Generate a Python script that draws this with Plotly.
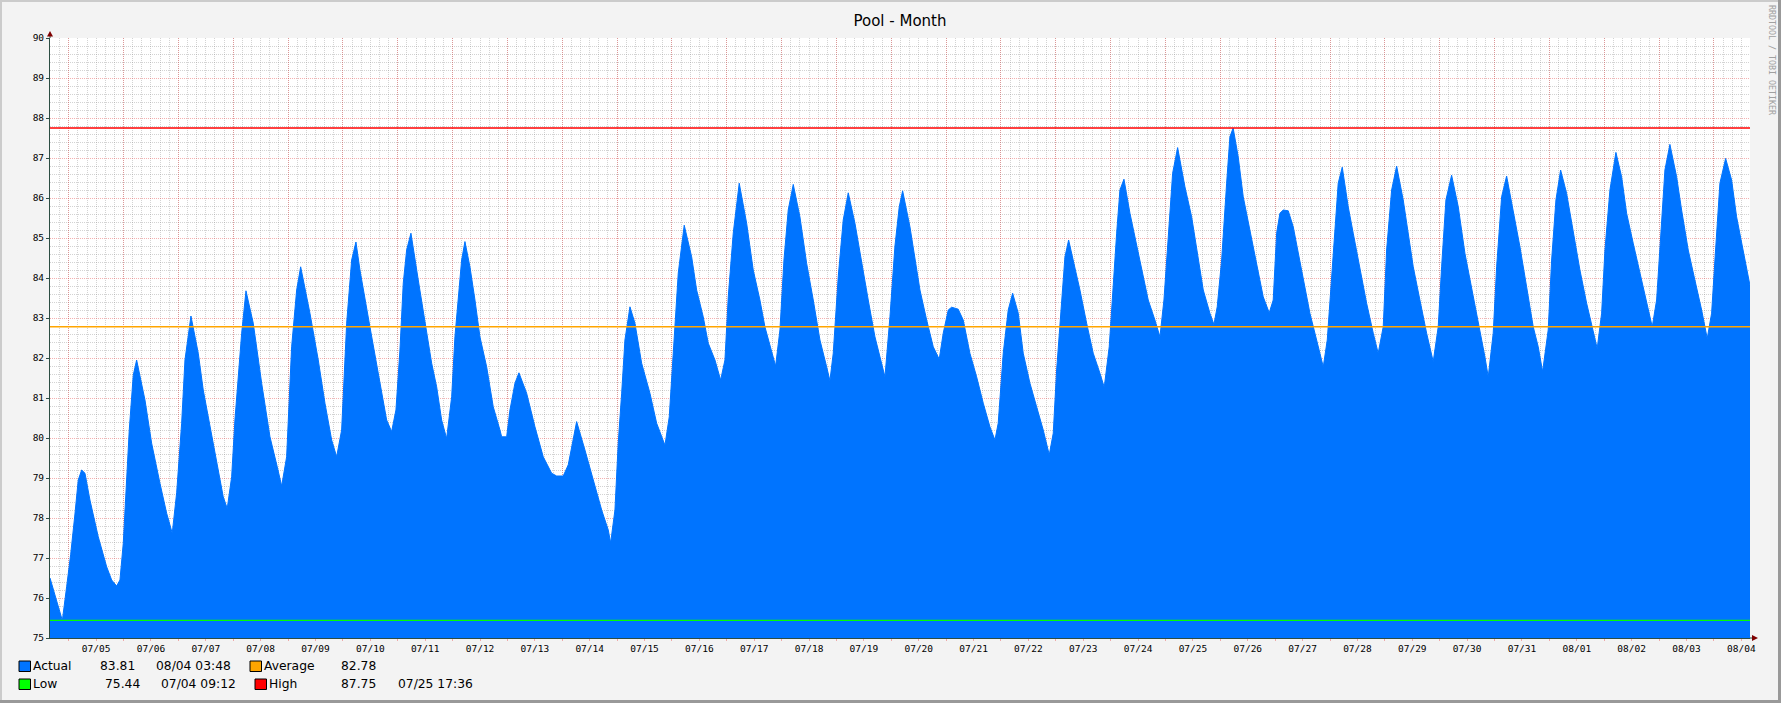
import plotly.graph_objects as go
import pandas as pd

# pool temperature readings (°F)
times = [
    "07-04 03:48", "07-04 06:00", "07-04 09:12", "07-04 11:05", "07-04 12:50", "07-04 14:43", "07-04 16:10", "07-04 17:39", "07-04 19:06", "07-04 21:17",
    "07-05 00:55", "07-05 04:36", "07-05 06:47", "07-05 08:58", "07-05 10:25", "07-05 11:52", "07-05 13:21", "07-05 14:29", "07-05 16:14", "07-05 17:43", "07-05 21:22",
    "07-06 00:17", "07-06 03:55", "07-06 06:51", "07-06 09:18", "07-06 11:14", "07-06 13:25", "07-06 14:52", "07-06 17:29", "07-06 20:41", "07-06 22:52",
    "07-07 01:48", "07-07 05:26", "07-07 07:37", "07-07 09:22", "07-07 11:18", "07-07 12:44", "07-07 14:11", "07-07 15:41", "07-07 17:34", "07-07 20:45",
    "07-08 00:26", "07-08 04:04", "07-08 07:15", "07-08 09:11", "07-08 11:22", "07-08 13:33", "07-08 15:45", "07-08 17:30", "07-08 21:34",
    "07-09 01:12", "07-09 04:08", "07-09 07:04", "07-09 09:15", "07-09 11:26", "07-09 13:38", "07-09 15:49", "07-09 17:42", "07-09 19:27", "07-09 23:49",
    "07-10 04:12", "07-10 07:08", "07-10 09:19", "07-10 11:12", "07-10 12:57", "07-10 14:24", "07-10 15:53", "07-10 17:46", "07-10 20:58", "07-10 23:54",
    "07-11 02:50", "07-11 05:01", "07-11 07:12", "07-11 09:23", "07-11 11:35", "07-11 13:01", "07-11 14:28", "07-11 15:57", "07-11 17:24", "07-11 19:35", "07-11 21:47", "07-11 23:58",
    "07-12 02:54", "07-12 05:47", "07-12 08:43", "07-12 09:28", "07-12 11:39", "07-12 13:06", "07-12 15:17", "07-12 17:02", "07-12 20:24",
    "07-13 00:02", "07-13 03:40", "07-13 07:20", "07-13 09:32", "07-13 12:25", "07-13 14:37", "07-13 18:17", "07-13 21:55",
    "07-14 01:33", "07-14 05:14", "07-14 08:07", "07-14 09:10", "07-14 11:03", "07-14 12:29", "07-14 13:59", "07-14 15:25", "07-14 17:37", "07-14 19:48", "07-14 22:44",
    "07-15 02:22", "07-15 05:18", "07-15 08:56", "07-15 10:49", "07-15 12:34", "07-15 14:45", "07-15 17:22", "07-15 20:37", "07-15 22:48",
    "07-16 01:41", "07-16 03:53", "07-16 06:49", "07-16 09:18", "07-16 11:11", "07-16 12:38", "07-16 14:49", "07-16 17:26", "07-16 20:41", "07-16 23:34",
    "07-17 02:30", "07-17 04:41", "07-17 07:37", "07-17 09:22", "07-17 11:15", "07-17 13:01", "07-17 14:53", "07-17 17:05", "07-17 20:00", "07-17 22:56",
    "07-18 01:50", "07-18 04:46", "07-18 07:42", "07-18 09:08", "07-18 10:35", "07-18 12:46", "07-18 14:57", "07-18 17:09", "07-18 20:05", "07-18 23:01",
    "07-19 01:54", "07-19 04:50", "07-19 07:46", "07-19 09:13", "07-19 11:24", "07-19 13:35", "07-19 15:28", "07-19 16:57", "07-19 20:09", "07-19 22:20",
    "07-20 00:32", "07-20 03:28", "07-20 06:21", "07-20 08:58", "07-20 10:43", "07-20 12:55", "07-20 14:24", "07-20 17:17", "07-20 19:28", "07-20 22:24",
    "07-21 01:20", "07-21 04:14", "07-21 07:10", "07-21 09:21", "07-21 10:47", "07-21 12:59", "07-21 15:10", "07-21 17:06", "07-21 19:33", "07-21 21:44",
    "07-22 00:40", "07-22 03:36", "07-22 06:29", "07-22 09:07", "07-22 10:52", "07-22 12:21", "07-22 14:32", "07-22 15:59", "07-22 17:36", "07-22 20:22", "07-22 22:33",
    "07-23 01:29", "07-23 04:22", "07-23 07:18", "07-23 09:11", "07-23 11:22", "07-23 13:07", "07-23 14:37", "07-23 16:03", "07-23 17:49", "07-23 20:26", "07-23 22:37",
    "07-24 01:33", "07-24 04:26", "07-24 07:22", "07-24 09:34", "07-24 11:19", "07-24 13:11", "07-24 15:07", "07-24 17:18", "07-24 20:30", "07-24 23:26",
    "07-25 01:37", "07-25 04:31", "07-25 07:26", "07-25 09:11", "07-25 10:38", "07-25 12:34", "07-25 14:45", "07-25 16:11", "07-25 17:36", "07-25 19:49", "07-25 22:01",
    "07-26 00:57", "07-26 03:53", "07-26 06:46", "07-26 09:23", "07-26 11:08", "07-26 12:38", "07-26 14:04", "07-26 15:31", "07-26 17:43", "07-26 19:54", "07-26 22:05",
    "07-27 00:16", "07-27 03:12", "07-27 06:08", "07-27 09:02", "07-27 10:47", "07-27 11:58", "07-27 14:09", "07-27 15:35", "07-27 17:21", "07-27 19:58", "07-27 22:09",
    "07-28 01:05", "07-28 04:01", "07-28 06:55", "07-28 09:05", "07-28 11:17", "07-28 12:46", "07-28 14:58", "07-28 17:09", "07-28 20:02", "07-28 22:13",
    "07-29 00:25", "07-29 03:20", "07-29 06:17", "07-29 09:10", "07-29 11:21", "07-29 12:50", "07-29 14:43", "07-29 17:13", "07-29 20:07", "07-29 23:02",
    "07-30 01:58", "07-30 05:36", "07-30 07:47", "07-30 09:14", "07-30 11:25", "07-30 12:55", "07-30 15:06", "07-30 17:17", "07-30 20:11", "07-30 23:07",
    "07-31 02:02", "07-31 04:56", "07-31 07:07", "07-31 09:02", "07-31 11:29", "07-31 12:59", "07-31 14:52", "07-31 16:55", "07-31 19:32", "07-31 22:26",
    "08-01 01:22", "08-01 04:18", "08-01 07:11", "08-01 08:56", "08-01 10:52", "08-01 12:19", "08-01 14:30", "08-01 17:07", "08-01 19:37", "08-01 21:48",
    "08-02 00:41", "08-02 04:22", "08-02 07:16", "08-02 09:01", "08-02 10:56", "08-02 12:23", "08-02 14:34", "08-02 16:45", "08-02 19:41", "08-02 21:52",
    "08-03 00:46", "08-03 03:41", "08-03 06:38", "08-03 09:05", "08-03 11:00", "08-03 12:27", "08-03 14:38", "08-03 17:08", "08-03 19:45", "08-03 21:56",
    "08-04 00:08", "08-04 02:19", "08-04 03:48",
]
temps = [
    76.5, 76.05, 75.44, 76.28, 77.08, 78.1, 78.95, 79.2, 79.12, 78.45,
    77.53, 76.78, 76.45, 76.3, 76.45, 77.37, 79.12, 80.2, 81.57, 81.95, 80.95,
    79.87, 78.87, 78.12, 77.62, 78.63, 80.37, 81.95, 83.05, 82.12, 81.2,
    80.28, 79.2, 78.53, 78.24, 79.03, 80.45, 81.62, 82.62, 83.68, 82.87,
    81.37, 80.03, 79.28, 78.8, 79.53, 82.28, 83.7, 84.28, 83.12,
    81.95, 80.87, 79.95, 79.53, 80.2, 82.87, 84.45, 84.9, 84.2, 82.78,
    81.37, 80.45, 80.16, 80.7, 82.2, 83.87, 84.7, 85.12, 83.95, 82.87,
    81.87, 81.28, 80.45, 79.99, 81.03, 82.53, 83.53, 84.45, 84.91, 84.28, 83.45, 82.53,
    81.78, 80.78, 80.2, 80.03, 80.03, 80.7, 81.37, 81.63, 81.12,
    80.28, 79.53, 79.12, 79.05, 79.05, 79.33, 80.41, 79.7,
    78.95, 78.2, 77.7, 77.38, 78.2, 79.87, 81.12, 82.45, 83.28, 82.87, 81.87,
    81.12, 80.37, 79.82, 80.53, 82.2, 84.12, 85.32, 84.53, 83.7,
    83.03, 82.37, 81.95, 81.45, 81.95, 83.53, 85.12, 86.37, 85.37, 84.2,
    83.45, 82.78, 82.12, 81.8, 82.7, 84.45, 85.7, 86.34, 85.53, 84.37,
    83.45, 82.45, 81.78, 81.43, 82.12, 84.03, 85.45, 86.13, 85.37, 84.37,
    83.45, 82.53, 81.87, 81.53, 83.03, 84.8, 85.78, 86.18, 85.28, 84.45,
    83.7, 82.95, 82.28, 81.97, 82.62, 83.2, 83.27, 83.22, 82.95, 82.12,
    81.53, 80.87, 80.28, 79.95, 80.37, 82.12, 83.2, 83.62, 83.12, 82.12,
    81.37, 80.78, 80.2, 79.58, 80.12, 81.7, 83.45, 84.53, 84.95, 84.28, 83.7,
    82.87, 82.12, 81.62, 81.27, 82.28, 83.87, 85.12, 86.2, 86.47, 85.62, 85.03,
    84.2, 83.45, 82.95, 82.53, 83.45, 85.03, 86.62, 87.26, 86.28, 85.53,
    84.7, 83.7, 83.12, 82.84, 83.28, 84.45, 86.37, 87.53, 87.75, 87.03, 86.03,
    85.2, 84.37, 83.53, 83.13, 83.45, 85.12, 85.62, 85.7, 85.68, 85.28, 84.62,
    83.95, 83.12, 82.45, 81.78, 82.45, 83.45, 85.03, 86.37, 86.77, 85.78, 85.12,
    84.2, 83.37, 82.62, 82.12, 82.78, 84.7, 86.2, 86.8, 85.95, 85.12,
    84.28, 83.45, 82.62, 81.91, 82.78, 84.28, 85.95, 86.57, 85.78, 84.62,
    83.78, 82.7, 82.03, 81.53, 82.62, 84.28, 86.03, 86.55, 85.7, 84.78,
    83.78, 82.78, 82.28, 81.66, 82.7, 84.45, 85.95, 86.7, 86.12, 85.12,
    84.2, 83.37, 82.7, 82.24, 83.12, 84.7, 86.2, 87.14, 86.53, 85.62,
    84.87, 83.95, 83.28, 82.78, 83.45, 84.78, 86.7, 87.34, 86.53, 85.7,
    84.7, 83.95, 83.2, 82.49, 83.12, 84.45, 86.37, 86.99, 86.45, 85.53,
    84.87, 84.28, 83.81,
]
assert len(times) == len(temps)

year = "2023"
stamps = pd.to_datetime([year + "-" + t for t in times])

actual, actual_at = 83.81, "08/04 03:48"
average = 82.78
low, low_at = 75.44, "07/04 09:12"
high, high_at = 87.75, "07/25 17:36"

start = year + "-07-04 03:48"
end = year + "-08-04 03:48"

BLUE = "#0074FF"
ORANGE = "#FFA500"
GREEN = "#00FF00"
RED = "#FF0000"
AXIS = "#2C4D43"
GRID = "rgba(140,140,140,0.38)"
MGRID = "rgba(230,70,70,0.42)"
MONO = "DejaVu Sans Mono"
SANS = "DejaVu Sans"

W, H = 1781, 703
L, R, T, B = 50, 1750, 38, 638


def px(x):
    return (x - L) / (R - L)


def py(y):
    return (B - y) / (B - T)


fig = go.Figure()
fig.add_trace(go.Scatter(x=stamps, y=temps, mode="lines", line=dict(color=BLUE, width=1),
                         fill="tozeroy", fillcolor=BLUE, hoverinfo="x+y"))
for val, col in [(low, GREEN), (average, ORANGE), (high, RED)]:
    fig.add_trace(go.Scatter(x=[start, end], y=[val, val], mode="lines",
                             line=dict(color=col, width=1.4), hoverinfo="skip"))
# carrier for the noon grid axis
fig.add_trace(go.Scatter(x=[start, end], y=[75, 75], xaxis="x2", mode="markers",
                         marker=dict(opacity=0), hoverinfo="skip"))

fig.update_layout(
    width=W, height=H,
    margin=dict(l=L, r=W - R, t=T, b=H - B),
    paper_bgcolor="#F3F3F3", plot_bgcolor="white",
    showlegend=False,
    title=dict(text="Pool - Month", x=0.5, xref="paper", xanchor="center",
               y=1 - 21 / H, yanchor="middle", font=dict(family=SANS, size=15, color="black")),
    xaxis=dict(type="date", range=[start, end], tick0=year + "-07-05", dtick=86400000,
               tickformat="%m/%d", ticks="outside", ticklen=2, tickcolor=MGRID,
               showgrid=True, gridcolor=GRID, griddash="1px,1px", gridwidth=1,
               minor=dict(dtick=4 * 3600000, showgrid=True, gridcolor=GRID, griddash="1px,1px"),
               showline=True, linecolor=AXIS, linewidth=1, zeroline=False,
               tickfont=dict(family=MONO, size=9.5, color="black")),
    xaxis2=dict(type="date", range=[start, end], overlaying="x", anchor="y", side="bottom",
                tick0=year + "-07-04 12:00", dtick=86400000, showticklabels=False,
                ticks="outside", ticklen=2, tickcolor=MGRID,
                showgrid=True, gridcolor=MGRID, griddash="1px,1px", zeroline=False),
    yaxis=dict(range=[75, 90], tick0=75, dtick=1, ticks="outside", ticklen=3, tickcolor=AXIS,
               showgrid=True, gridcolor=MGRID, griddash="1px,1px",
               minor=dict(dtick=0.2, showgrid=True, gridcolor=GRID, griddash="1px,1px"),
               showline=True, linecolor=AXIS, linewidth=1, zeroline=False,
               tickfont=dict(family=MONO, size=9.5, color="black")),
)

P = dict(xref="paper", yref="paper")
shapes = [
    # frame
    dict(type="line", x0=px(0), x1=px(W), y0=py(1), y1=py(1), line=dict(color="#CBCBCB", width=2), **P),
    dict(type="line", x0=px(1), x1=px(1), y0=py(0), y1=py(H), line=dict(color="#CBCBCB", width=2), **P),
    dict(type="line", x0=px(0), x1=px(W), y0=py(H - 1.5), y1=py(H - 1.5), line=dict(color="#999999", width=3), **P),
    dict(type="line", x0=px(W - 1.5), x1=px(W - 1.5), y0=py(0), y1=py(H), line=dict(color="#999999", width=3), **P),
    # axis arrows
    dict(type="line", x0=px(L), x1=px(L), y0=py(T), y1=py(T - 4), line=dict(color=AXIS, width=1), **P),
    dict(type="path", path=f"M {px(47)},{py(36.5)} L {px(53)},{py(36.5)} L {px(50)},{py(31)} Z",
         fillcolor="#7F0000", line=dict(width=0), **P),
    dict(type="line", x0=px(R), x1=px(R + 4), y0=py(B), y1=py(B), line=dict(color=AXIS, width=1), **P),
    dict(type="path", path=f"M {px(1752)},{py(635)} L {px(1752)},{py(641)} L {px(1758)},{py(638)} Z",
         fillcolor="#7F0000", line=dict(width=0), **P),
]

annotations = [
    dict(text="RRDTOOL / TOBI OETIKER", x=px(1772), y=py(60), showarrow=False, textangle=90,
         xanchor="center", yanchor="middle", font=dict(family=MONO, size=8.3, color="#A0A0A0"), **P),
]

legend_rows = [
    (666, [("box", 19, BLUE), ("Actual", 32), (f"{actual:.2f}", 99), (actual_at, 155),
           ("box", 250, ORANGE), ("Average", 263), (f"{average:.2f}", 340)]),
    (684, [("box", 19, GREEN), ("Low", 32), (f"{low:.2f}", 104), (low_at, 160),
           ("box", 255, RED), ("High", 268), (f"{high:.2f}", 340), (high_at, 397)]),
]
for ypos, items in legend_rows:
    for item in items:
        if item[0] == "box":
            x0 = item[1]
            shapes.append(dict(type="rect", x0=px(x0), x1=px(x0 + 11.5), y0=py(ypos - 5), y1=py(ypos + 5.5),
                               fillcolor=item[2], line=dict(color="black", width=1), **P))
        else:
            annotations.append(dict(text=item[0], x=px(item[1] - 1.5), y=py(ypos), showarrow=False,
                                    xanchor="left", yanchor="middle",
                                    font=dict(family=SANS, size=12.3, color="black"), **P))

fig.update_layout(shapes=shapes, annotations=annotations)

# page margin off so the figure sits at the window's top-left corner
fig.write_html("out.html", config={"displayModeBar": False},
               post_script="document.body.style.margin='0';")
